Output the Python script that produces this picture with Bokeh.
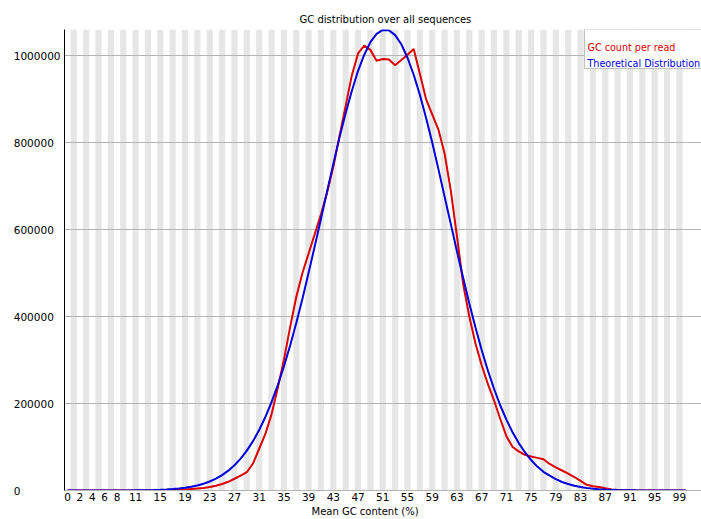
from bokeh.plotting import figure
from bokeh.models import (Range1d, FixedTicker, Label, ColumnDataSource,
                          BoxAnnotation, Title)
from bokeh.embed import file_html
from bokeh.resources import INLINE

# ---------------- data ----------------
gc_bins = list(range(101))

gc_count_per_read = [
    0, 0, 0, 0, 0, 0, 0, 0, 0, 0,
    0, 0, 0, 200, 400, 600, 1000, 1500, 2000, 2500,
    3500, 4500, 6000, 8000, 11000, 15000, 20000, 27000, 34000, 42000,
    62000, 96000, 130000, 175000, 235000, 300000, 375000, 445000, 500000, 545000,
    590000, 635000, 685000, 745000, 815000, 885000, 955000, 1005000, 1023000, 1013000,
    988000, 992000, 991000, 978000, 990000, 1002000, 1015000, 958000, 900000, 865000,
    830000, 775000, 690000, 585000, 475000, 400000, 338000, 288000, 245000, 207000,
    165000, 125000, 100000, 90000, 82000, 78000, 75000, 72000, 61000, 53000,
    46000, 39000, 31000, 22000, 13000, 10000, 8000, 5000, 2500, 1200,
    600, 300, 200, 100, 50, 0, 0, 0, 0, 0,
    0,
]

theoretical_distribution = [
    0, 0, 0, 0, 0, 0, 0, 100, 100, 200,
    250, 400, 550, 800, 1150, 1650, 2350, 3300, 4600, 6300,
    8600, 11700, 15600, 20700, 27200, 35400, 45600, 58100, 73300, 91700,
    113500, 139000, 169000, 203000, 242000, 285000, 333000, 385000, 441000, 501000,
    562000, 625000, 689000, 751000, 812000, 868000, 919000, 965000, 1002000, 1031000,
    1050000, 1059000, 1058000, 1047000, 1026000, 995000, 956000, 910000, 857000, 800000,
    739000, 676000, 613000, 550000, 489000, 430000, 375000, 323000, 276000, 234000,
    196000, 163000, 134000, 109000, 88000, 70000, 55000, 43000, 34000, 26000,
    19600, 14800, 11000, 8100, 5900, 4300, 3100, 2200, 1500, 1100,
    740, 500, 340, 230, 150, 100, 65, 42, 27, 17,
    11,
]

x_ticks = [0, 2, 4, 6, 8, 11, 15, 19, 23, 27, 31, 35, 39, 43, 47, 51, 55, 59,
           63, 67, 71, 75, 79, 83, 87, 91, 95, 99]
y_ticks = [0, 200000, 400000, 600000, 800000, 1000000]
y_tick_labels = ["0", "200000", "400000", "600000", "800000", "1000000"]
series_names = ["GC count per read", "Theoretical Distribution"]
title_text = "GC distribution over all sequences"
x_label_text = "Mean GC content (%)"

# ---------------- style ----------------
RED = "#dc0000"
BLUE = "#0000dc"
STRIPE = "#e6e6e6"
GRID = "#b4b4b4"
FONT = "DejaVu Sans"
Y_MAX = 1060000
FIG_SP = "\u2007"  # figure space: keeps the y labels left aligned

p = figure(width=701, height=519, output_backend="svg", toolbar_location=None,
           x_range=Range1d(-0.5, 102.57), y_range=Range1d(0, Y_MAX),
           min_border_left=64, min_border_right=0, min_border_top=29,
           min_border_bottom=29)
p.background_fill_color = "white"
p.border_fill_color = "white"
p.outline_line_color = None

# title (above, positioned like the original)
p.title.text = title_text
p.title.align = "left"
p.title.offset = 235
p.title.standoff = 9
p.title.text_font = FONT
p.title.text_font_size = "10px"
p.title.text_font_style = "normal"
p.title.text_color = "black"

# alternating stripes (odd bins)
stripe_x = [b for b in gc_bins if b % 2 == 1]
p.vbar(x=stripe_x, width=1, bottom=0, top=Y_MAX, fill_color=STRIPE,
       line_color=None, level="image")

# axes
p.xaxis.ticker = FixedTicker(ticks=x_ticks)
p.xaxis.major_tick_line_color = None
p.xaxis.minor_tick_line_color = None
p.xaxis.major_tick_out = 0
p.xaxis.major_tick_in = 0
p.xaxis.minor_tick_out = 0
p.xaxis.axis_line_color = GRID
p.xaxis.major_label_text_font = FONT
p.xaxis.major_label_text_font_size = "10.5px"
p.xaxis.major_label_text_color = "black"
p.xaxis.major_label_standoff = 2

width_chars = max(len(s) for s in y_tick_labels)
p.yaxis.ticker = FixedTicker(ticks=y_ticks)
p.yaxis.major_label_overrides = {
    v: s + FIG_SP * (width_chars - len(s)) for v, s in zip(y_ticks, y_tick_labels)
}
p.yaxis.major_tick_line_color = None
p.yaxis.minor_tick_line_color = None
p.yaxis.major_tick_out = 0
p.yaxis.major_tick_in = 0
p.yaxis.minor_tick_out = 0
p.yaxis.axis_line_color = "black"
p.yaxis.major_label_standoff = 4
p.yaxis.major_label_text_font = FONT
p.yaxis.major_label_text_font_size = "10.5px"
p.yaxis.major_label_text_color = "black"

p.xgrid.visible = False
p.ygrid.grid_line_color = GRID
p.ygrid.grid_line_width = 1

# x axis title, placed below the tick labels
p.add_layout(Title(text=x_label_text, align="left", offset=247, standoff=0,
                   text_font=FONT, text_font_size="10px",
                   text_font_style="normal", text_color="black"), "below")

# data lines
src = ColumnDataSource(dict(gc=gc_bins, count=gc_count_per_read,
                            theo=theoretical_distribution))
p.line("gc", "count", source=src, line_color=RED, line_width=2)
p.line("gc", "theo", source=src, line_color=BLUE, line_width=2)

# legend box with coloured texts
p.add_layout(BoxAnnotation(left=520, right=660, bottom=422, top=461,
                           left_units="screen", right_units="screen",
                           bottom_units="screen", top_units="screen",
                           fill_color="white", fill_alpha=1.0,
                           line_color="#c0c0c0", line_width=1, line_alpha=1.0))
p.add_layout(Label(x=523, y=443.3, x_units="screen", y_units="screen",
                   text=series_names[0], text_align="left", text_baseline="alphabetic",
                   text_font=FONT, text_font_size="9.6px", text_color=RED))
p.add_layout(Label(x=523, y=426.7, x_units="screen", y_units="screen",
                   text=series_names[1], text_align="left", text_baseline="alphabetic",
                   text_font=FONT, text_font_size="9.6px", text_color=BLUE))

open("out.html", "w").write(file_html(p, INLINE))
